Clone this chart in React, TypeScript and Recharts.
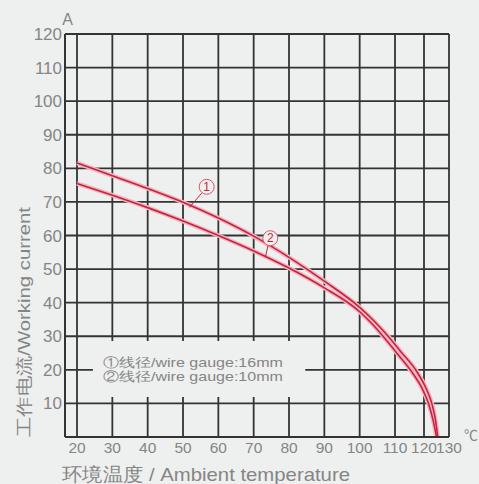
import React from 'react';
import {
  LineChart,
  Line,
  XAxis,
  YAxis,
  CartesianGrid,
  ReferenceArea,
  ReferenceDot,
  ReferenceLine,
} from 'recharts';

// ambient temperature (°C) vs. working current (A)
const xTicks = [20, 30, 40, 50, 60, 70, 80, 90, 100, 110, 120, 130];
const yTicks = [10, 20, 30, 40, 50, 60, 70, 80, 90, 100, 110, 120];

const temp16 = [20, 30, 40, 50, 60, 70, 80, 90, 100, 104, 107.8, 112, 117.5, 121, 123.2, 124.6, 125.5];
const amp16 = [81.6, 77.8, 74.0, 69.9, 65.2, 59.8, 53.5, 46.4, 38.6, 34.6, 30.3, 25.4, 19.5, 14.2, 9.8, 5, 0];

const temp10 = [20, 30, 40, 50, 60, 70, 80, 90, 100, 103.5, 106.6, 111, 116.1, 119.5, 121.8, 123.8, 125];
const amp10 = [75.5, 72.0, 68.3, 64.3, 60.0, 55.4, 50.3, 44.4, 37.3, 33.7, 30, 24.6, 19.0, 14.2, 10, 4.5, 0];

const legendLines = ['①线径/wire gauge:16mm', '②线径/wire gauge:10mm'];

const series16 = temp16.map((t, i) => ({ t, a: amp16[i] }));
const series10 = temp10.map((t, i) => ({ t, a: amp10[i] }));

// the printed axis squeezes the last two decades (110-120-130)
const knotT = [16.6, 110, 120, 130];
const knotF = [0, 0.8594, 0.9349, 1];

function pieceScale(): any {
  let dom = [knotT[0], knotT[knotT.length - 1]];
  let rng = [0, 1];
  const frac = (v: number) => {
    let i = 0;
    while (i < knotT.length - 2 && v > knotT[i + 1]) i++;
    return knotF[i] + ((v - knotT[i]) / (knotT[i + 1] - knotT[i])) * (knotF[i + 1] - knotF[i]);
  };
  const s: any = (v: number) => rng[0] + frac(v) * (rng[1] - rng[0]);
  s.domain = (d?: number[]) => {
    if (d === undefined) return dom.slice();
    dom = d;
    return s;
  };
  s.range = (r?: number[]) => {
    if (r === undefined) return rng.slice();
    rng = r;
    return s;
  };
  s.copy = () => pieceScale().domain(dom).range(rng);
  s.ticks = () => xTicks;
  s.invert = (px: number) => {
    const f = (px - rng[0]) / (rng[1] - rng[0]);
    let i = 0;
    while (i < knotF.length - 2 && f > knotF[i + 1]) i++;
    return knotT[i] + ((f - knotF[i]) / (knotF[i + 1] - knotF[i])) * (knotT[i + 1] - knotT[i]);
  };
  return s;
}

const RED = '#c4243d';
const HALO = '#f2b6c2';
const GRID = '#333';
const TEXT = '#858585';
const BG = '#eeefef';

const LegendLabel = (props: any) => {
  const { x, y } = props.viewBox || {};
  return (
    <g>
      {legendLines.map((l, i) => (
        <text
          key={i}
          x={x + 10}
          y={y + 26 + i * 14}
          fill={TEXT}
          fontSize={13}
          textLength={180}
          lengthAdjust="spacingAndGlyphs"
        >
          {l}
        </text>
      ))}
    </g>
  );
};

export default function App() {
  const scale = pieceScale();
  return (
    <div
      style={{
        position: 'absolute',
        left: 0,
        top: 0,
        width: 479,
        height: 484,
        background: BG,
        fontFamily: '"Liberation Sans", Arial, sans-serif',
      }}
    >
      <LineChart width={479} height={484} margin={{ top: 34, right: 30, bottom: 0, left: 0 }}>
        <CartesianGrid stroke={GRID} strokeWidth={1.8} />
        <XAxis
          dataKey="t"
          type="number"
          scale={scale}
          domain={[16.6, 130]}
          ticks={xTicks}
          interval={0}
          height={47}
          tickSize={0}
          tickMargin={5}
          axisLine={{ stroke: GRID, strokeWidth: 2 }}
          tick={{ fill: TEXT, fontSize: 15.5 }}
          allowDataOverflow
        />
        <YAxis
          type="number"
          domain={[0, 120]}
          ticks={yTicks}
          interval={0}
          width={65}
          tickSize={0}
          tickMargin={3}
          axisLine={{ stroke: GRID, strokeWidth: 2 }}
          tick={{ fill: TEXT, fontSize: 17 }}
        />
        <ReferenceArea
          x1={24.5}
          x2={84.6}
          y1={11.9}
          y2={28.6}
          fill={BG}
          fillOpacity={1}
          stroke="none"
          ifOverflow="visible"
          label={<LegendLabel />}
        />
        <Line data={series16} dataKey="a" type="monotone" stroke={HALO} strokeWidth={4.5} dot={false} isAnimationActive={false} />
        <Line data={series10} dataKey="a" type="monotone" stroke={HALO} strokeWidth={4.5} dot={false} isAnimationActive={false} />
        <Line data={series16} dataKey="a" type="monotone" stroke={RED} strokeWidth={1.6} dot={false} isAnimationActive={false} />
        <Line data={series10} dataKey="a" type="monotone" stroke={RED} strokeWidth={1.6} dot={false} isAnimationActive={false} />
        <ReferenceLine segment={[{ x: 55.3, y: 72.6 }, { x: 51.8, y: 68.4 }]} stroke={RED} strokeWidth={1} />
        <ReferenceLine segment={[{ x: 74.1, y: 57.2 }, { x: 73.3, y: 53.5 }]} stroke={RED} strokeWidth={1} />
        <ReferenceDot
          x={56.7}
          y={74.5}
          r={7.5}
          fill={BG}
          stroke="#d9566b"
          strokeWidth={1}
          label={{ value: '1', position: 'center', fill: RED, fontSize: 12 }}
        />
        <ReferenceDot
          x={74.7}
          y={59.2}
          r={7.5}
          fill={BG}
          stroke="#d9566b"
          strokeWidth={1}
          label={{ value: '2', position: 'center', fill: RED, fontSize: 12 }}
        />
      </LineChart>
      <svg
        width={479}
        height={484}
        style={{ position: 'absolute', left: 0, top: 0, pointerEvents: 'none' }}
      >
        <text x={67.5} y={25} textAnchor="middle" fill={TEXT} fontSize={16}>
          A
        </text>
        <text x={464} y={440} fill={TEXT} fontSize={14} fontFamily='"Noto Sans CJK SC", sans-serif'>
          ℃
        </text>
        <text
          transform="translate(30,437) rotate(-90)"
          fill={TEXT}
          fontSize={17}
          textLength={230}
          lengthAdjust="spacingAndGlyphs"
        >
          工作电流/Working current
        </text>
        <text x={62} y={481} fill={TEXT} fontSize={19} textLength={288} lengthAdjust="spacingAndGlyphs">
          环境温度 / Ambient temperature
        </text>
      </svg>
    </div>
  );
}
